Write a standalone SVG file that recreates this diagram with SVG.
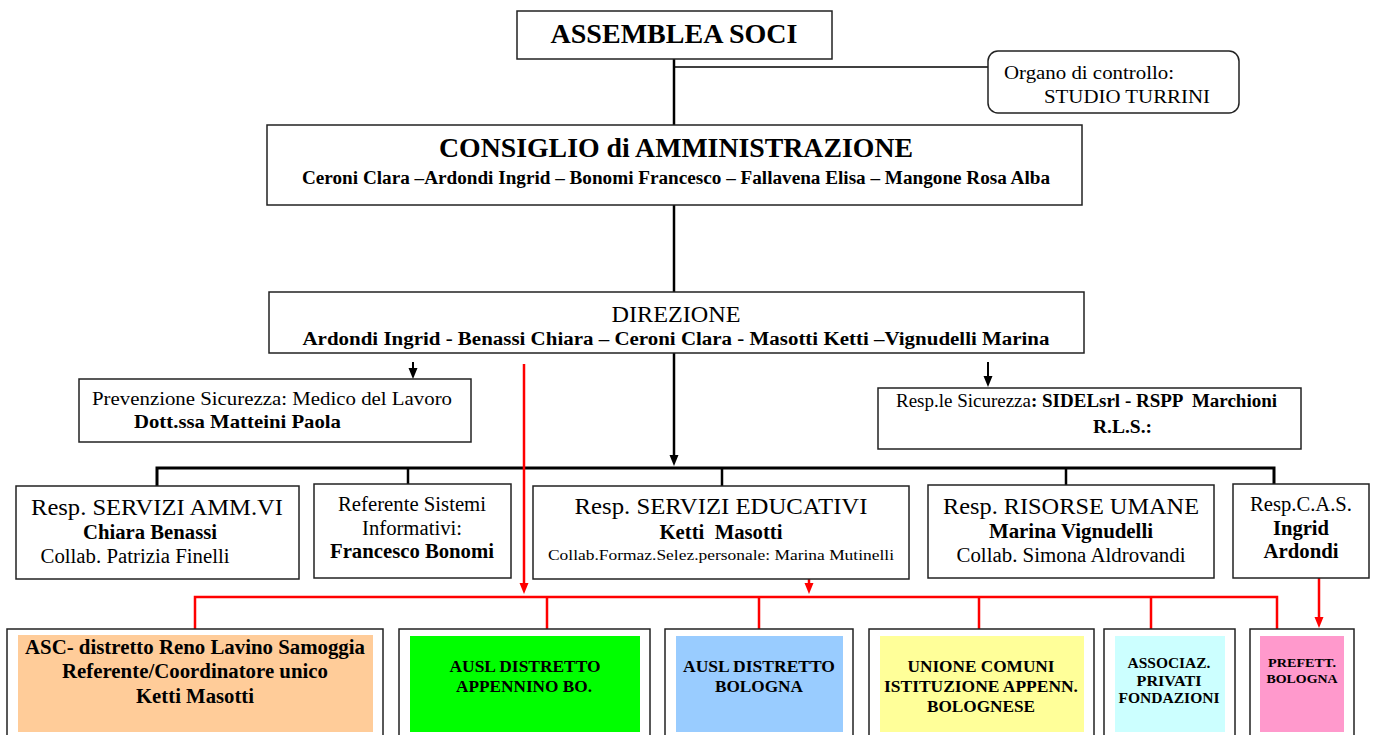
<svg xmlns="http://www.w3.org/2000/svg" width="1376" height="735" viewBox="0 0 1376 735">
<defs>
<marker id="ab" markerUnits="userSpaceOnUse" markerWidth="12" markerHeight="10" refX="1" refY="4.5" orient="auto"><path d="M0,0 L11,4.5 L0,9 z" fill="#000"/></marker>
<marker id="ar" markerUnits="userSpaceOnUse" markerWidth="12" markerHeight="10" refX="1" refY="4.5" orient="auto"><path d="M0,0 L11,4.5 L0,9 z" fill="#f00"/></marker>
<style>
.box{fill:#fff;stroke:#222;stroke-width:1.5}
.t{font-family:"Liberation Serif","Times New Roman",serif;fill:#000}
.b{font-weight:bold}
.m{text-anchor:middle}
.k{stroke:#000;stroke-width:2.5;fill:none}
.r{stroke:#f00;stroke-width:2.5;fill:none}
</style>
</defs>
<rect width="1376" height="735" fill="#fff"/>

<g id="connectors">
<path class="k" d="M674,59 V125"/>
<path class="k" style="stroke-width:1.5" d="M674,67 H988"/>
<path class="k" d="M674,204 V292"/>
<path class="k" d="M674,353 V456" marker-end="url(#ab)"/>
<path class="k" style="stroke-width:2" d="M413,362 V369" marker-end="url(#ab)"/>
<path class="k" style="stroke-width:2" d="M988,362 V377" marker-end="url(#ab)"/>
<path class="k" style="stroke-width:3" d="M157,486 V468 H1274 V484"/>
<path class="k" d="M408,468 V484 M722,468 V486 M1066,468 V485"/>
<path class="r" d="M524,364 V584" marker-end="url(#ar)"/>
<path class="r" d="M809,579 V584" marker-end="url(#ar)"/>
<path class="r" d="M1319,578 V618" marker-end="url(#ar)"/>
<path class="r" d="M195,629 V597 H1277 V629"/>
<path class="r" d="M547,597 V629 M759,597 V629 M979,597 V629 M1151,597 V629"/>
</g>

<g id="assemblea">
<rect class="box" x="517" y="11" width="315" height="48"/>
<text class="t b m" x="674" y="43" font-size="27" textLength="247" lengthAdjust="spacingAndGlyphs">ASSEMBLEA SOCI</text>
</g>

<g id="organo">
<rect class="box" x="988" y="51" width="251" height="62" rx="10"/>
<text class="t" x="1004" y="79" font-size="19" textLength="170" lengthAdjust="spacingAndGlyphs">Organo di controllo:</text>
<text class="t" x="1044" y="103" font-size="19" textLength="166" lengthAdjust="spacingAndGlyphs">STUDIO TURRINI</text>
</g>

<g id="cda">
<rect class="box" x="267" y="125" width="815" height="80"/>
<text class="t b m" x="676" y="157" font-size="27" textLength="474" lengthAdjust="spacingAndGlyphs">CONSIGLIO di AMMINISTRAZIONE</text>
<text class="t b m" x="676" y="184" font-size="18" textLength="748" lengthAdjust="spacingAndGlyphs">Ceroni Clara –Ardondi Ingrid – Bonomi Francesco – Fallavena Elisa – Mangone Rosa Alba</text>
</g>

<g id="direzione">
<rect class="box" x="269" y="292" width="815" height="61"/>
<text class="t m" x="676" y="322" font-size="23" textLength="129" lengthAdjust="spacingAndGlyphs">DIREZIONE</text>
<text class="t b m" x="676" y="345" font-size="18" textLength="747" lengthAdjust="spacingAndGlyphs">Ardondi Ingrid - Benassi Chiara – Ceroni Clara - Masotti Ketti –Vignudelli Marina</text>
</g>

<g id="prevenzione">
<rect class="box" x="79" y="379" width="392" height="63"/>
<text class="t" x="92" y="405" font-size="19" textLength="360" lengthAdjust="spacingAndGlyphs">Prevenzione Sicurezza: Medico del Lavoro</text>
<text class="t b" x="134" y="428" font-size="19" textLength="207" lengthAdjust="spacingAndGlyphs">Dott.ssa Matteini Paola</text>
</g>

<g id="sicurezza">
<rect class="box" x="878" y="388" width="423" height="61"/>
<text class="t" x="896" y="407" font-size="18" textLength="381" lengthAdjust="spacingAndGlyphs">Resp.le Sicurezza<tspan class="b">: SIDELsrl - RSPP &#160;Marchioni</tspan></text>
<text class="t b" x="1093" y="433" font-size="18" textLength="59" lengthAdjust="spacingAndGlyphs">R.L.S.:</text>
</g>

<g id="amministrativi">
<rect class="box" x="16" y="486" width="283" height="93"/>
<text class="t m" x="157" y="515" font-size="23" textLength="252" lengthAdjust="spacingAndGlyphs">Resp. SERVIZI AMM.VI</text>
<text class="t b m" x="150" y="539" font-size="20" textLength="134" lengthAdjust="spacingAndGlyphs">Chiara Benassi</text>
<text class="t m" x="135" y="563" font-size="20" textLength="189" lengthAdjust="spacingAndGlyphs">Collab. Patrizia Finelli</text>
</g>

<g id="sistemi">
<rect class="box" x="314" y="484" width="197" height="94"/>
<text class="t m" x="412" y="511" font-size="20" textLength="148" lengthAdjust="spacingAndGlyphs">Referente Sistemi</text>
<text class="t m" x="412" y="535" font-size="20" textLength="100" lengthAdjust="spacingAndGlyphs">Informativi:</text>
<text class="t b m" x="412" y="558" font-size="20" textLength="164" lengthAdjust="spacingAndGlyphs">Francesco Bonomi</text>
</g>

<g id="educativi">
<rect class="box" x="533" y="486" width="376" height="93"/>
<text class="t m" x="721" y="514" font-size="23" textLength="293" lengthAdjust="spacingAndGlyphs">Resp. SERVIZI EDUCATIVI</text>
<text class="t b m" x="721" y="539" font-size="20" textLength="123" lengthAdjust="spacingAndGlyphs">Ketti &#160;Masotti</text>
<text class="t m" x="721" y="560" font-size="15.5" textLength="346" lengthAdjust="spacingAndGlyphs">Collab.Formaz.Selez.personale: Marina Mutinelli</text>
</g>

<g id="risorse">
<rect class="box" x="928" y="485" width="286" height="93"/>
<text class="t m" x="1071" y="514" font-size="23" textLength="256" lengthAdjust="spacingAndGlyphs">Resp. RISORSE UMANE</text>
<text class="t b m" x="1071" y="538" font-size="20" textLength="164" lengthAdjust="spacingAndGlyphs">Marina Vignudelli</text>
<text class="t m" x="1071" y="562" font-size="20" textLength="229" lengthAdjust="spacingAndGlyphs">Collab. Simona Aldrovandi</text>
</g>

<g id="cas">
<rect class="box" x="1233" y="484" width="136" height="94"/>
<text class="t m" x="1301" y="511" font-size="20" textLength="102" lengthAdjust="spacingAndGlyphs">Resp.C.A.S.</text>
<text class="t b m" x="1301" y="535" font-size="20" textLength="56" lengthAdjust="spacingAndGlyphs">Ingrid</text>
<text class="t b m" x="1301" y="558" font-size="20" textLength="75" lengthAdjust="spacingAndGlyphs">Ardondi</text>
</g>

<g id="asc">
<rect class="box" x="7" y="629" width="376" height="115"/>
<rect x="18" y="635" width="355" height="97" fill="#FFCC99"/>
<text class="t b m" x="195" y="654" font-size="20" textLength="340" lengthAdjust="spacingAndGlyphs">ASC- distretto Reno Lavino Samoggia</text>
<text class="t b m" x="195" y="678" font-size="20" textLength="266" lengthAdjust="spacingAndGlyphs">Referente/Coordinatore unico</text>
<text class="t b m" x="195" y="703" font-size="20" textLength="118" lengthAdjust="spacingAndGlyphs">Ketti Masotti</text>
</g>

<g id="ausl-appennino">
<rect class="box" x="399" y="629" width="251" height="115"/>
<rect x="410" y="636" width="230" height="96" fill="#00FF00"/>
<text class="t b m" x="525" y="672" font-size="16.5" textLength="151" lengthAdjust="spacingAndGlyphs">AUSL DISTRETTO</text>
<text class="t b m" x="524" y="692" font-size="16.5" textLength="136" lengthAdjust="spacingAndGlyphs">APPENNINO BO.</text>
</g>

<g id="ausl-bologna">
<rect class="box" x="665" y="629" width="188" height="115"/>
<rect x="676" y="636" width="167" height="96" fill="#99CCFF"/>
<text class="t b m" x="759" y="672" font-size="16.5" textLength="152" lengthAdjust="spacingAndGlyphs">AUSL DISTRETTO</text>
<text class="t b m" x="759" y="692" font-size="16.5" textLength="88" lengthAdjust="spacingAndGlyphs">BOLOGNA</text>
</g>

<g id="unione">
<rect class="box" x="869" y="629" width="225" height="115"/>
<rect x="880" y="636" width="204" height="96" fill="#FFFF99"/>
<text class="t b m" x="981" y="672" font-size="16.5" textLength="147" lengthAdjust="spacingAndGlyphs">UNIONE COMUNI</text>
<text class="t b m" x="981" y="692" font-size="16.5" textLength="194" lengthAdjust="spacingAndGlyphs">ISTITUZIONE APPENN.</text>
<text class="t b m" x="981" y="712" font-size="16.5" textLength="108" lengthAdjust="spacingAndGlyphs">BOLOGNESE</text>
</g>

<g id="associazioni">
<rect class="box" x="1104" y="629" width="131" height="115"/>
<rect x="1115" y="636" width="110" height="96" fill="#CCFFFF"/>
<text class="t b m" x="1169" y="668" font-size="15" textLength="83" lengthAdjust="spacingAndGlyphs">ASSOCIAZ.</text>
<text class="t b m" x="1169" y="686" font-size="15" textLength="65" lengthAdjust="spacingAndGlyphs">PRIVATI</text>
<text class="t b m" x="1169" y="703" font-size="15" textLength="101" lengthAdjust="spacingAndGlyphs">FONDAZIONI</text>
</g>

<g id="prefettura">
<rect class="box" x="1250" y="629" width="104" height="115"/>
<rect x="1260" y="636" width="84" height="96" fill="#FF99CC"/>
<text class="t b m" x="1302" y="667" font-size="13.5" textLength="68" lengthAdjust="spacingAndGlyphs">PREFETT.</text>
<text class="t b m" x="1302" y="683" font-size="13.5" textLength="71" lengthAdjust="spacingAndGlyphs">BOLOGNA</text>
</g>
</svg>
